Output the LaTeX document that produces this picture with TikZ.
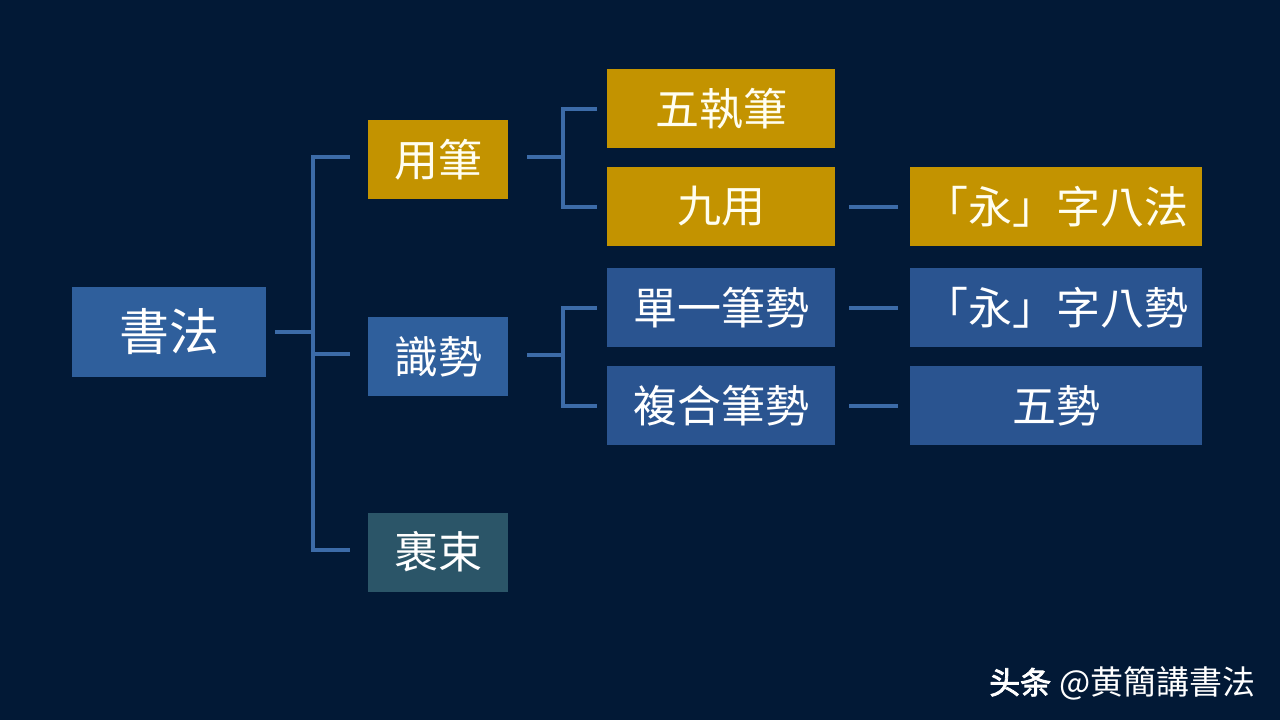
\documentclass[tikz,border=0pt]{standalone}
\usepackage{fontspec}
\newfontfamily\cjk{Noto Sans CJK TC}
\newfontfamily\cjksc{Noto Sans CJK SC}
\newfontfamily\cjkscb{Noto Sans CJK SC}[FakeBold=2.5]
\definecolor{bg}{HTML}{021936}
\definecolor{goldc}{HTML}{C39300}
\definecolor{bluea}{HTML}{2F5F9C}
\definecolor{blueb}{HTML}{2A5490}
\definecolor{tealc}{HTML}{2B5568}
\definecolor{linec}{HTML}{3C6BA8}
\tikzset{
  box/.style={inner sep=0pt, text=white, minimum height=79pt, font=\cjk\fontsize{44}{44}\selectfont},
  goldbox/.style={box, fill=goldc, text=white!94!yellow},
  bluebox/.style={box, fill=bluea},
  darkbox/.style={box, fill=blueb},
  tealbox/.style={box, fill=tealc},
  conn/.style={draw=linec, line width=4pt},
  wm/.style={anchor=base west, inner sep=0pt, text=white}
}
\begin{document}
\begin{tikzpicture}[x=1pt,y=-1pt]
\fill[bg] (0,0) rectangle (1280,720);
\useasboundingbox (0,0) rectangle (1280,720);

% level 0
\node[bluebox, minimum width=194pt, minimum height=90pt, font=\cjk\fontsize{50}{50}\selectfont] (shufa) at (169,332) {書法};
% level 1
\node[goldbox, minimum width=140pt] (yongbi) at (438,159.5) {用筆};
\node[bluebox, minimum width=140pt] (shishi) at (438,356.5) {識勢};
\node[tealbox, minimum width=140pt] (guoshu) at (438,552) {裹束};
% level 2
\node[goldbox, minimum width=228pt] (wuzhi) at (721,108.5) {五執筆};
\node[goldbox, minimum width=228pt] (jiuyong) at (721,206.5) {九用};
\node[darkbox, minimum width=228pt] (danyi) at (721,307.5) {單一筆勢};
\node[darkbox, minimum width=228pt] (fuhe) at (721,405.5) {複合筆勢};
% level 3
\node[goldbox, minimum width=292pt] (bafa) at (1056,206.5) {「永」字八法};
\node[darkbox, minimum width=292pt] (bashi) at (1056,307.5) {「永」字八勢};
\node[darkbox, minimum width=292pt] (wushi) at (1056,405.5) {五勢};

% connectors level 0 -> 1
\coordinate (trunk) at (313,332);
\draw[conn] ([xshift=9pt]shufa.east) -- (trunk);
\draw[conn] ([xshift=-18pt,yshift=2.5pt]yongbi.west) -| ([xshift=-55pt,yshift=2pt]guoshu.west) -- ([xshift=-18pt,yshift=2pt]guoshu.west);
\draw[conn] ([xshift=-55pt,yshift=2.5pt]shishi.west) -- ([xshift=-18pt,yshift=2.5pt]shishi.west);

% connectors level 1 -> 2
\draw[conn] ([xshift=19pt,yshift=2.5pt]yongbi.east) -- ([xshift=55pt,yshift=2.5pt]yongbi.east);
\draw[conn] ([xshift=-10pt]wuzhi.west) -| ([xshift=-44pt]jiuyong.west) -- ([xshift=-10pt]jiuyong.west);
\draw[conn] ([xshift=19pt,yshift=1.5pt]shishi.east) -- ([xshift=55pt,yshift=1.5pt]shishi.east);
\draw[conn] ([xshift=-10pt]danyi.west) -| ([xshift=-44pt]fuhe.west) -- ([xshift=-10pt]fuhe.west);

% connectors level 2 -> 3
\draw[conn] ([xshift=14pt]jiuyong.east) -- ([xshift=-12pt]bafa.west);
\draw[conn] ([xshift=14pt]danyi.east) -- ([xshift=-12pt]bashi.west);
\draw[conn] ([xshift=14pt]fuhe.east) -- ([xshift=-12pt]wushi.west);

% watermark
\node[wm, font=\cjkscb\fontsize{31}{31}\selectfont] (wm1) at (989,694) {头条};
\node[wm, font=\cjksc\fontsize{33}{33}\selectfont] (wm2) at (1059,694) {@黄簡講書法};
\end{tikzpicture}
\end{document}
